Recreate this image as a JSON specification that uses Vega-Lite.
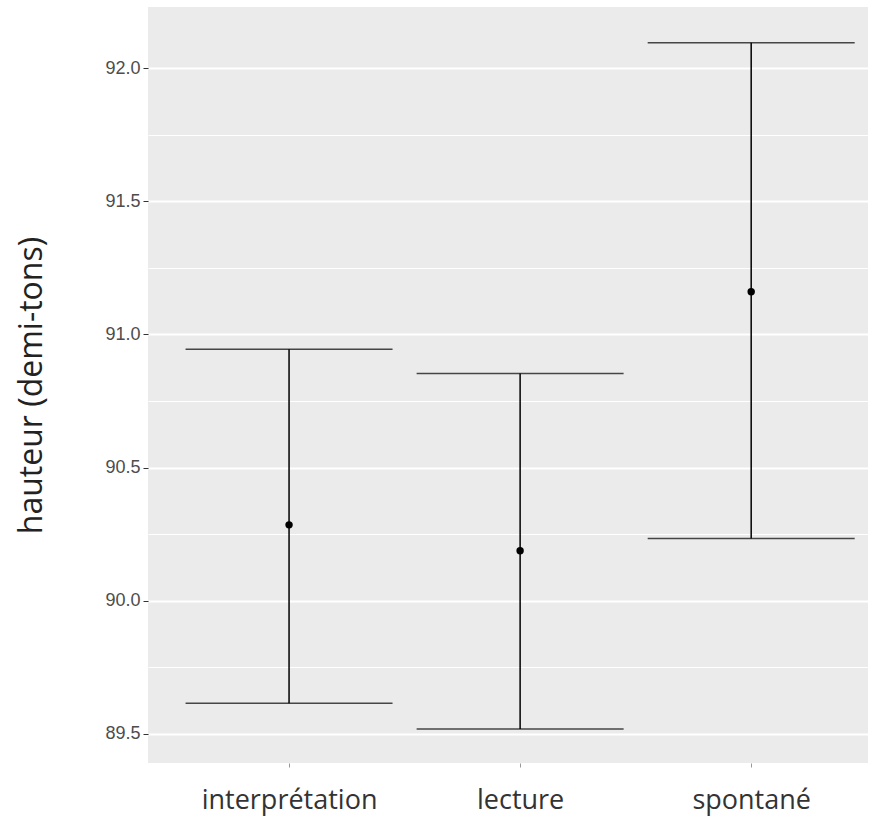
{
  "$schema": "https://vega.github.io/schema/vega-lite/v6.json",
  "autosize": "none",
  "width": 720,
  "height": 756,
  "padding": {"left": 148, "top": 7, "right": 16, "bottom": 67},
  "background": "white",
  "config": {
    "view": {"fill": "#EBEBEB", "stroke": null},
    "axis": {"gridColor": "white", "domain": false, "tickColor": "#333333", "labelColor": "#4D4D4D"}
  },
  "data": {
    "values": [
      {"condition": "interprétation", "mean": 90.285, "lo": 89.615, "hi": 90.944},
      {"condition": "lecture", "mean": 90.188, "lo": 89.519, "hi": 90.853},
      {"condition": "spontané", "mean": 91.16, "lo": 90.234, "hi": 92.095}
    ]
  },
  "encoding": {
    "x": {
      "field": "condition",
      "type": "nominal",
      "sort": null,
      "scale": {"type": "point", "padding": 0.558, "align": 0.547},
      "axis": {
        "title": null,
        "labelAngle": 0,
        "labelFont": "Open Sans",
        "labelFontSize": 27,
        "labelColor": "#333333",
        "labelPadding": 20,
        "tickSize": 4,
        "tickWidth": 1,
        "tickColor": "#999999",
        "gridWidth": 1.5
      }
    }
  },
  "layer": [
    {
      "mark": {"type": "rule", "color": "black", "strokeWidth": 1.5},
      "encoding": {
        "y": {
          "field": "lo",
          "type": "quantitative",
          "scale": {"domain": [89.391, 92.229], "nice": false, "zero": false},
          "axis": {
            "title": "hauteur (demi-tons)",
            "titleFont": "Open Sans",
            "titleFontSize": 32,
            "titleFontWeight": "normal",
            "titleColor": "#222222",
            "titlePadding": 56,
            "values": [89.5, 89.75, 90.0, 90.25, 90.5, 90.75, 91.0, 91.25, 91.5, 91.75, 92.0],
            "labelExpr": "abs(datum.value*2 - round(datum.value*2)) > 0.01 ? '' : format(datum.value, '.1f')",
            "labelFont": "Liberation Sans",
            "labelFontSize": 18,
            "labelPadding": 3,
            "tickSize": 5,
            "tickOpacity": {"condition": {"test": "abs(datum.value*2 - round(datum.value*2)) > 0.01", "value": 0}, "value": 1},
            "gridWidth": {"condition": {"test": "abs(datum.value*2 - round(datum.value*2)) > 0.01", "value": 1}, "value": 2}
          }
        },
        "y2": {"field": "hi"}
      }
    },
    {
      "mark": {"type": "tick", "color": "black", "size": 207, "thickness": 1.5},
      "encoding": {"y": {"field": "lo", "type": "quantitative"}}
    },
    {
      "mark": {"type": "tick", "color": "black", "size": 207, "thickness": 1.5},
      "encoding": {"y": {"field": "hi", "type": "quantitative"}}
    },
    {
      "mark": {"type": "point", "filled": true, "color": "black", "opacity": 1, "size": 55},
      "encoding": {"y": {"field": "mean", "type": "quantitative"}}
    }
  ]
}
